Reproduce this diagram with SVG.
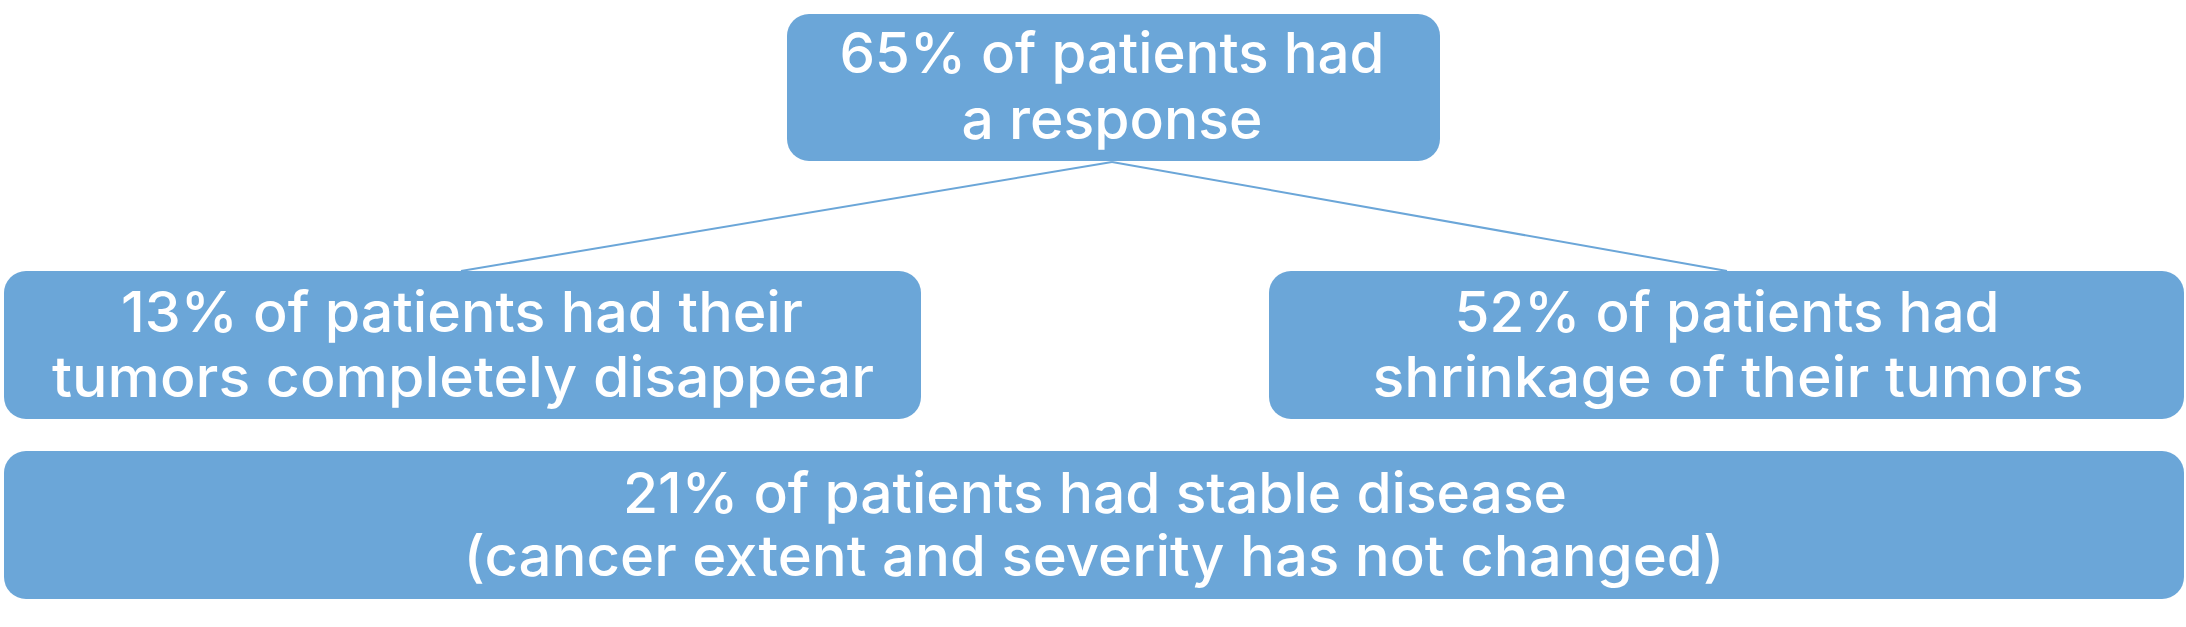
<svg xmlns="http://www.w3.org/2000/svg" width="2186" height="627" viewBox="0 0 2186 627">
<style>
.box{fill:#6ba6d8;}
.t{font-family:Inter,"Open Sans","Liberation Sans",sans-serif;font-size:56px;font-weight:500;fill:#ffffff;text-anchor:middle;}
.c{stroke:#6ba6d8;stroke-width:2;fill:none;}
</style>
<rect width="2186" height="627" fill="#ffffff"/>
<g id="connectors">
<line class="c" x1="1112" y1="162" x2="461" y2="271"/>
<line class="c" x1="1112" y1="162" x2="1727" y2="271"/>
</g>
<g id="node-response">
<rect class="box" x="787" y="14" width="653" height="147" rx="22"/>
<text class="t" x="1112" y="73" textLength="545" lengthAdjust="spacingAndGlyphs">65% of patients had</text>
<text class="t" x="1112" y="139" textLength="301" lengthAdjust="spacingAndGlyphs">a response</text>
</g>
<g id="node-complete">
<rect class="box" x="4" y="271" width="917" height="148" rx="22"/>
<text class="t" x="462" y="332" textLength="682" lengthAdjust="spacingAndGlyphs">13% of patients had their</text>
<text class="t" x="463" y="397" textLength="822" lengthAdjust="spacingAndGlyphs">tumors completely disappear</text>
</g>
<g id="node-shrinkage">
<rect class="box" x="1269" y="271" width="915" height="148" rx="22"/>
<text class="t" x="1727" y="332" textLength="545" lengthAdjust="spacingAndGlyphs">52% of patients had</text>
<text class="t" x="1728" y="397" textLength="711" lengthAdjust="spacingAndGlyphs">shrinkage of their tumors</text>
</g>
<g id="node-stable">
<rect class="box" x="4" y="451" width="2180" height="148" rx="22"/>
<text class="t" x="1095" y="513" textLength="944" lengthAdjust="spacingAndGlyphs">21% of patients had stable disease</text>
<text class="t" x="1094" y="576" textLength="1261" lengthAdjust="spacingAndGlyphs">(cancer extent and severity has not changed)</text>
</g>
</svg>
